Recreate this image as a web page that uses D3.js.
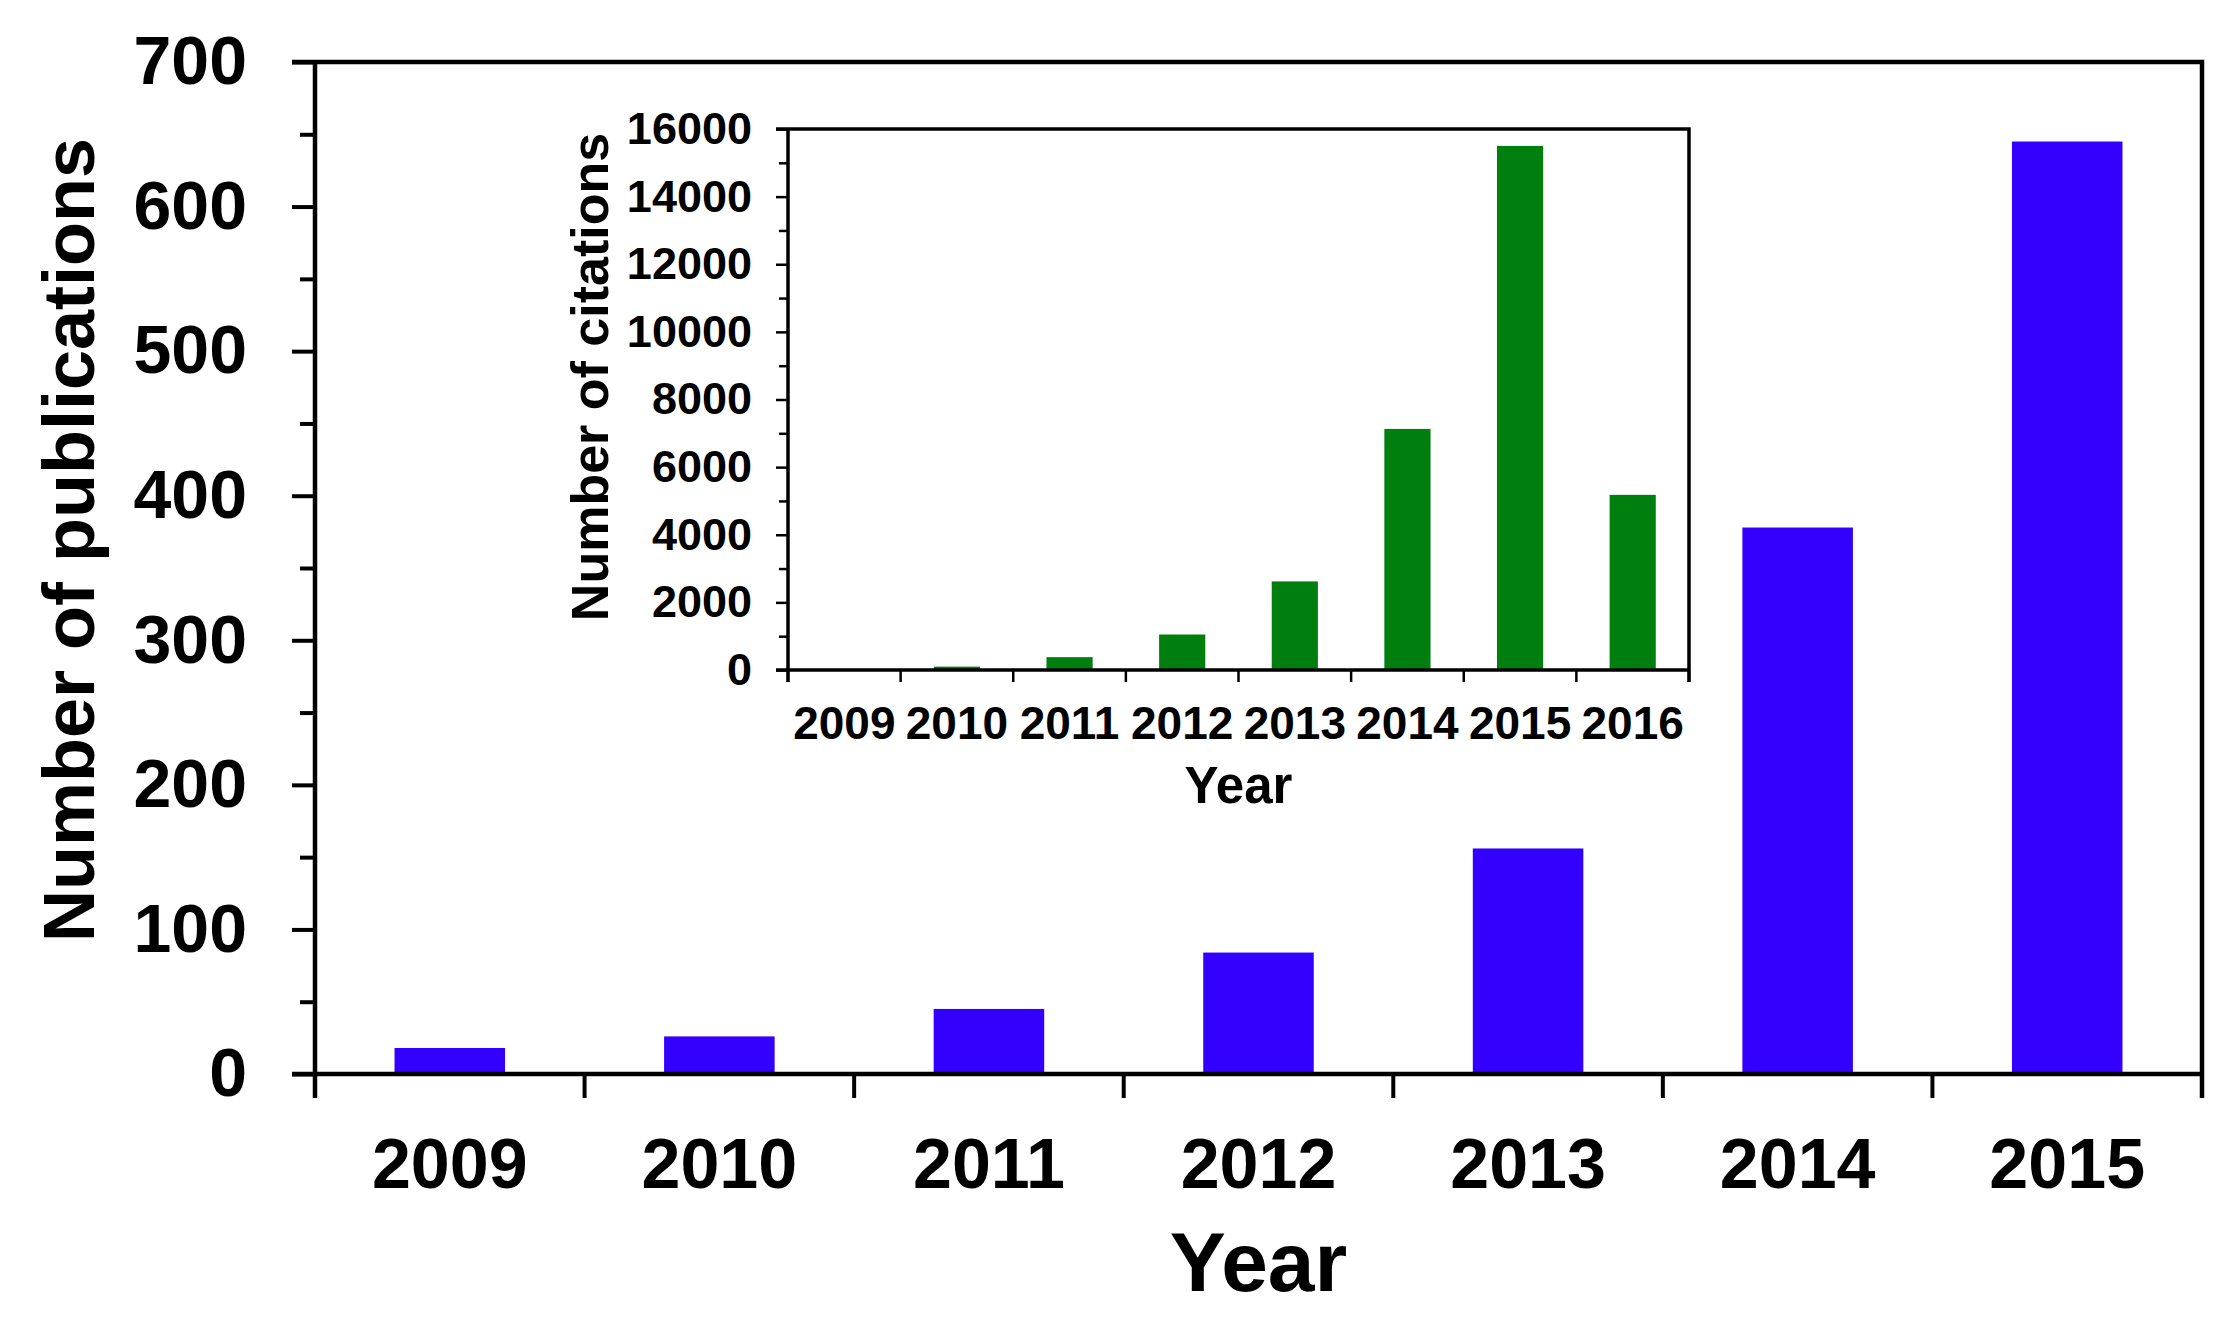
<!DOCTYPE html>
<html>
<head>
<meta charset="utf-8">
<script src="https://cdn.jsdelivr.net/npm/d3@7"></script>
<style>
  body { margin: 0; background: #fff; }
  text { font-family: "Liberation Sans", Arial, sans-serif; font-weight: bold; fill: #000; }
</style>
</head>
<body>
<div id="chart"></div>
<script>
// main chart data
var pubYears = ["2009", "2010", "2011", "2012", "2013", "2014", "2015"];
var pubCounts = [18, 26, 45, 84, 156, 378, 645];
var pubTicks = [0, 100, 200, 300, 400, 500, 600, 700];

// inset data
var citeYears = ["2009", "2010", "2011", "2012", "2013", "2014", "2015", "2016"];
var citeCounts = [0, 100, 380, 1050, 2620, 7130, 15500, 5180];
var citeTicks = [0, 2000, 4000, 6000, 8000, 10000, 12000, 14000, 16000];

var W = 2229, H = 1321;

var svg = d3.select("#chart").append("svg")
    .attr("width", W)
    .attr("height", H);

function drawPanel(opt) {
    var x = d3.scaleBand().domain(opt.years).range(opt.xr);
    var y = d3.scaleLinear().domain([0, opt.max]).range(opt.yr);
    var g = svg.append("g");
    var x0 = opt.xr[0], x1 = opt.xr[1], yb = opt.yr[0], yt = opt.yr[1];

    // bars
    g.selectAll("rect.bar")
        .data(opt.values)
        .enter().append("rect")
        .attr("class", "bar")
        .attr("x", function(d, i) { return x(opt.years[i]) + x.bandwidth() * (1 - opt.barFrac) / 2; })
        .attr("width", x.bandwidth() * opt.barFrac)
        .attr("y", function(d) { return y(d); })
        .attr("height", function(d) { return yb - y(d); })
        .attr("fill", opt.color);

    // minor ticks
    g.append("g")
        .attr("transform", "translate(" + x0 + ",0)")
        .call(d3.axisLeft(y).tickValues(opt.minor).tickSize(opt.minorLen).tickFormat(""))
        .call(function(a) { a.select(".domain").remove(); })
        .selectAll("line").attr("stroke-width", opt.tickW);

    // major ticks + labels
    var ya = g.append("g")
        .attr("transform", "translate(" + x0 + ",0)")
        .call(d3.axisLeft(y).tickValues(opt.ticks).tickSize(opt.majorLen)
            .tickPadding(opt.labelPad).tickFormat(d3.format("d")))
        .call(function(a) { a.select(".domain").remove(); });
    ya.selectAll("line").attr("stroke-width", opt.tickW);
    ya.selectAll("text").attr("font-size", opt.tickFont).attr("fill", "#000");

    // x ticks at band edges
    var edges = opt.years.map(function(d) { return x(d); }).concat([x1]);
    g.selectAll("line.xt")
        .data(edges)
        .enter().append("line")
        .attr("class", "xt")
        .attr("x1", function(d) { return d; })
        .attr("x2", function(d) { return d; })
        .attr("y1", yb)
        .attr("y2", yb + opt.xTickLen)
        .attr("stroke", "#000")
        .attr("stroke-width", opt.tickW);

    // x labels
    g.selectAll("text.xl")
        .data(opt.years)
        .enter().append("text")
        .attr("class", "xl")
        .attr("x", function(d) { return x(d) + x.bandwidth() / 2; })
        .attr("y", opt.xLabelY)
        .attr("text-anchor", "middle")
        .attr("font-size", opt.xFont)
        .text(function(d) { return d; });

    // frame
    g.append("path")
        .attr("d", "M" + (x0 - opt.majorLen) + "," + yt + "H" + x1 + "V" + (yb + opt.xTickLen) +
                   "M" + (x0 - opt.majorLen) + "," + yb + "H" + x1 +
                   "M" + x0 + "," + yt + "V" + (yb + opt.xTickLen))
        .attr("fill", "none")
        .attr("stroke", "#000")
        .attr("stroke-width", opt.frameW);

    // titles
    g.append("text")
        .attr("x", (x0 + x1) / 2)
        .attr("y", opt.xTitleY)
        .attr("text-anchor", "middle")
        .attr("font-size", opt.xTitleFont)
        .text("Year");

    g.append("text")
        .attr("transform", "translate(" + opt.yTitleX + "," + opt.yTitleY + ") rotate(-90)")
        .attr("text-anchor", "middle")
        .attr("font-size", opt.yTitleFont)
        .text(opt.yTitle);
}

drawPanel({
    years: pubYears, values: pubCounts, max: 700,
    ticks: pubTicks, minor: d3.range(50, 700, 100),
    xr: [315, 2202], yr: [1074, 62],
    color: "#3300ff", barFrac: 0.41,
    majorLen: 23, minorLen: 15, labelPad: 45, xTickLen: 24,
    tickW: 4, frameW: 4.5,
    tickFont: 68, xFont: 70, xLabelY: 1188,
    xTitleFont: 84, xTitleY: 1291,
    yTitle: "Number of publications", yTitleFont: 72, yTitleX: 94, yTitleY: 540
});

drawPanel({
    years: citeYears, values: citeCounts, max: 16000,
    ticks: citeTicks, minor: d3.range(1000, 16000, 2000),
    xr: [788, 1689], yr: [670, 129],
    color: "#007f0f", barFrac: 0.41,
    majorLen: 12, minorLen: 9, labelPad: 24, xTickLen: 12,
    tickW: 2.5, frameW: 3.5,
    tickFont: 45, xFont: 46, xLabelY: 739,
    xTitleFont: 51, xTitleY: 803,
    yTitle: "Number of citations", yTitleFont: 52, yTitleX: 608, yTitleY: 377
});
</script>
</body>
</html>
